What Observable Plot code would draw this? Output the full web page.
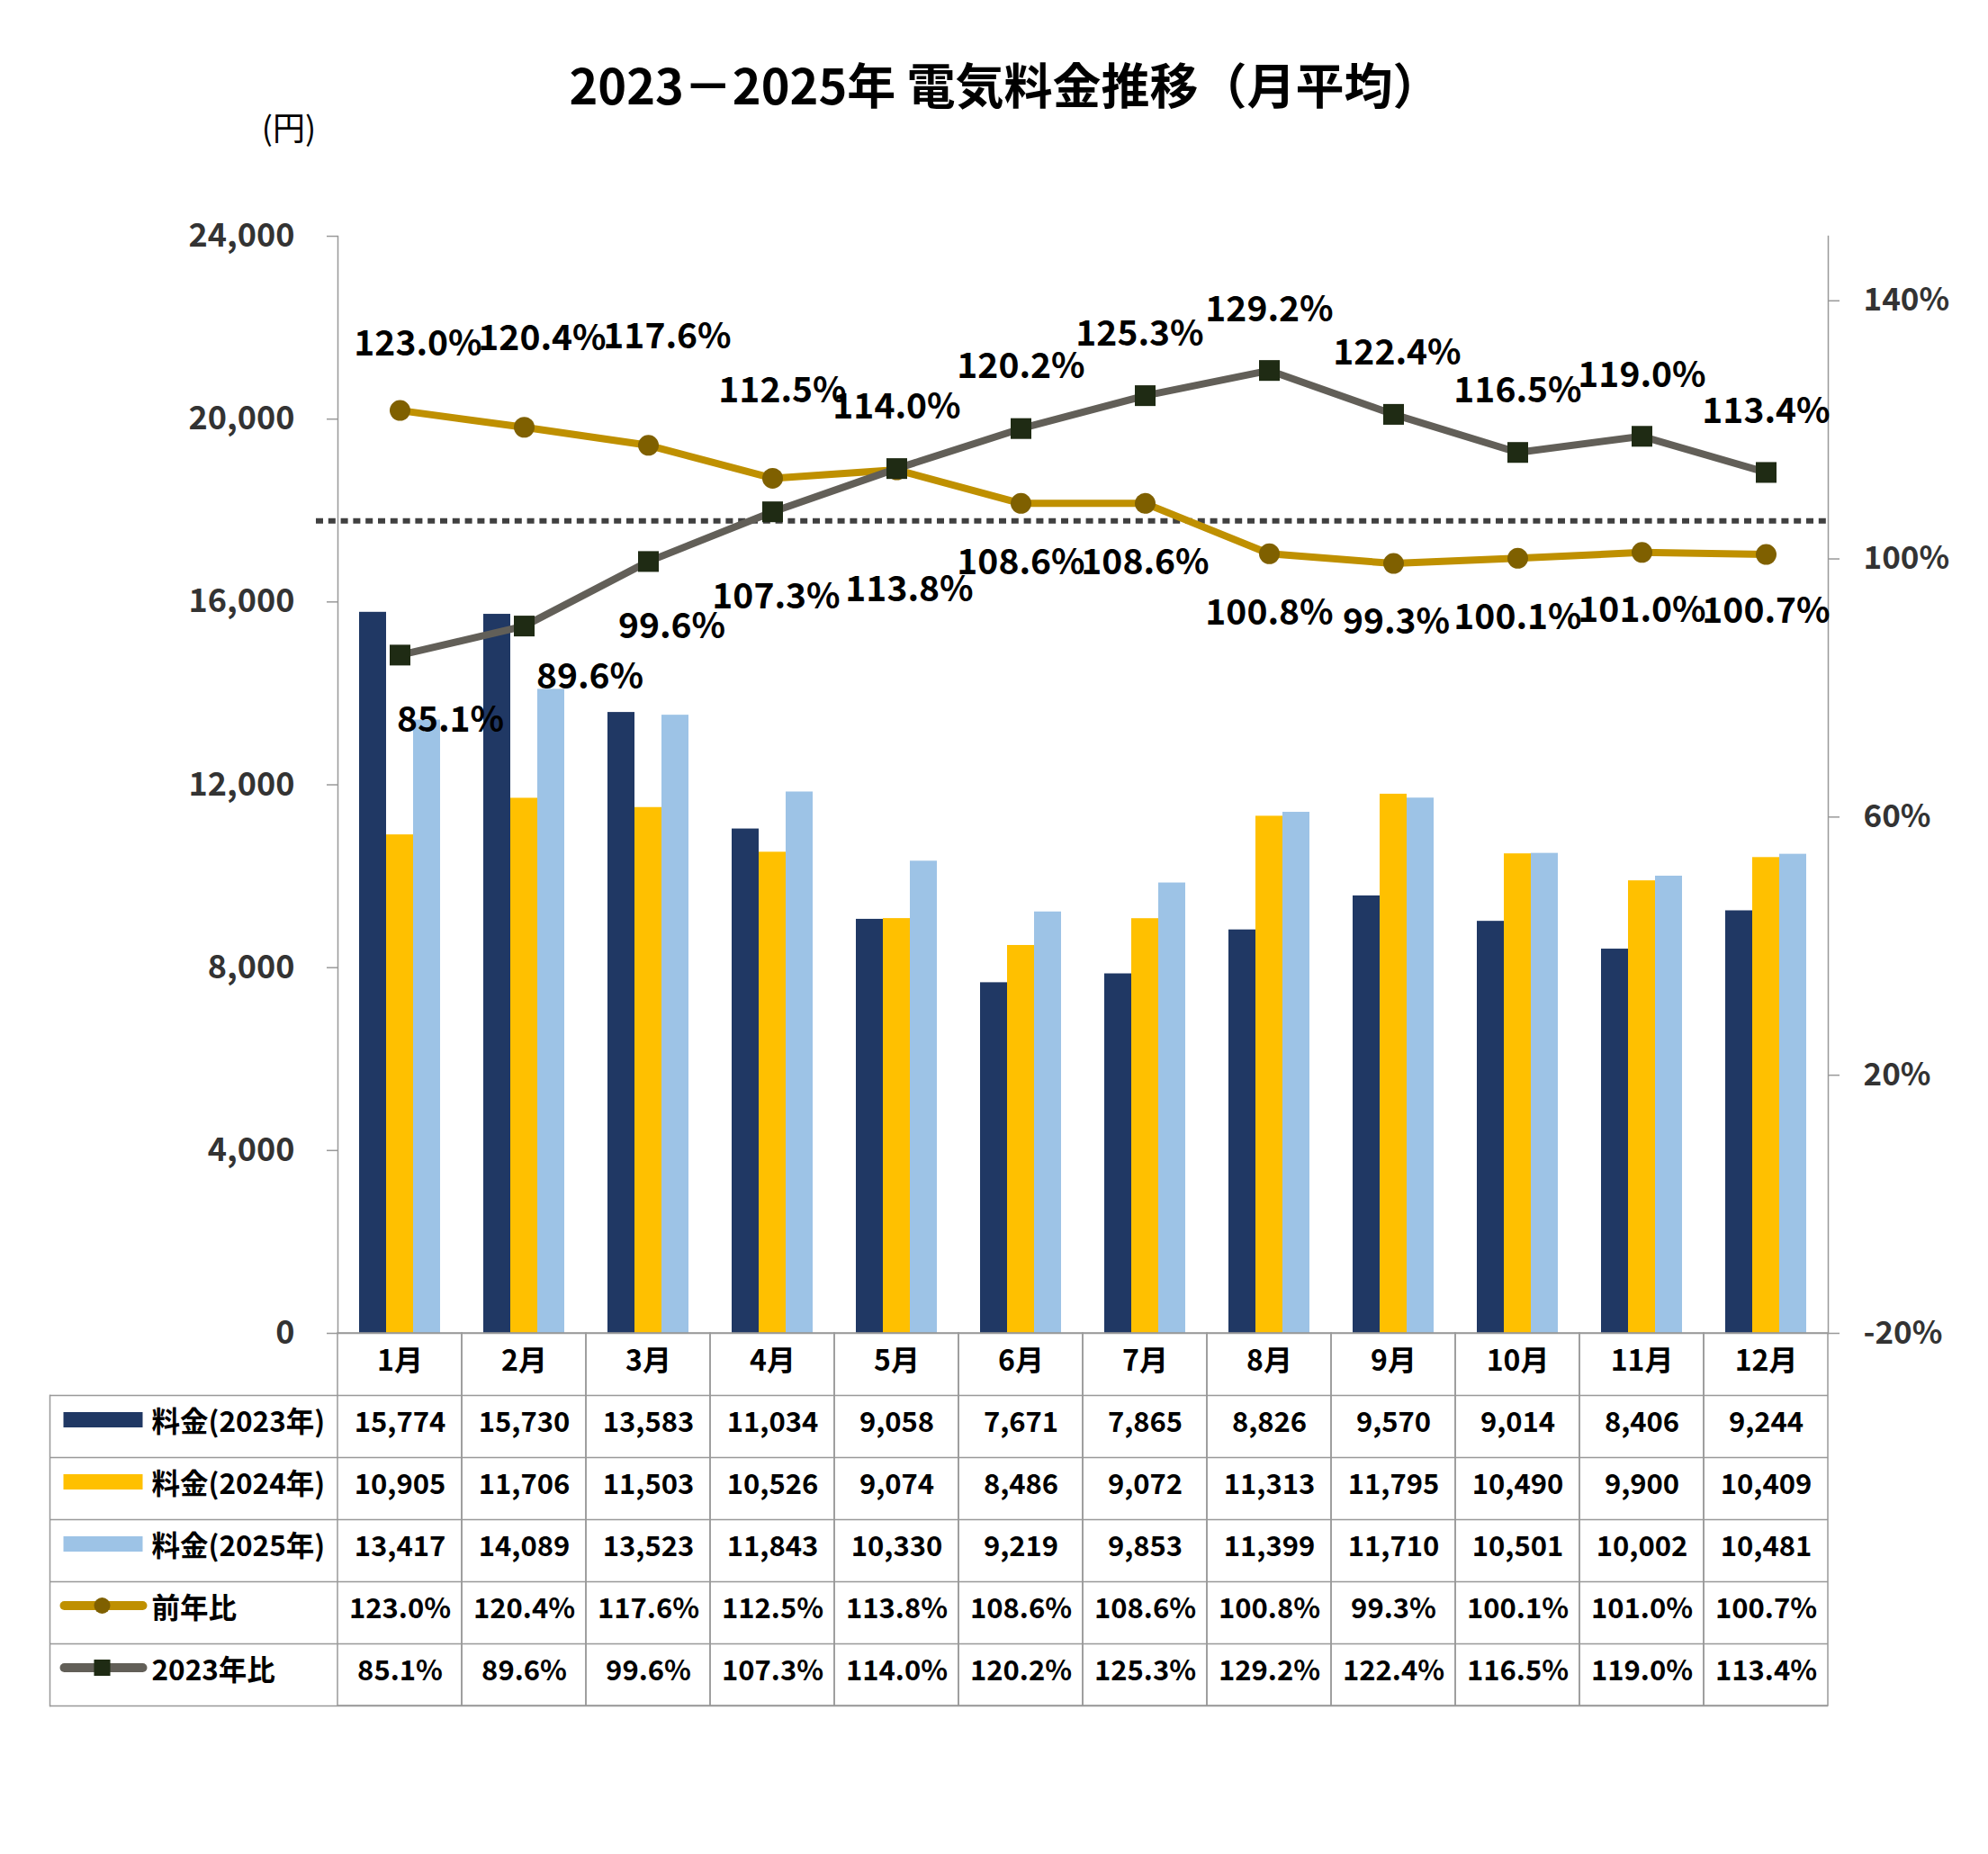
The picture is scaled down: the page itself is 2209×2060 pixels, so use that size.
<!DOCTYPE html>
<html>
<head>
<meta charset="utf-8">
<script src="https://cdn.jsdelivr.net/npm/d3@7"></script>
<script src="https://cdn.jsdelivr.net/npm/@observablehq/plot@0.6"></script>
<style>
  html, body { margin: 0; padding: 0; background: #fff; }
  body { width: 2209px; height: 2060px; position: relative; overflow: hidden; font-family: "Noto Sans CJK JP", sans-serif; }
  #title { position: absolute; left: 25px; width: 2184px; top: 66px; text-align: center; font-size: 54px; line-height: 54px; font-weight: bold; color: #000; }
  #unit { position: absolute; left: 271px; width: 100px; top: 122px; text-align: center; font-size: 36px; line-height: 36px; color: #000; }
  #chart, #overlay, #table { position: absolute; left: 0; }
  #chart, #overlay { top: 200px; }
  #table { top: 1481px; }
  svg { overflow: visible; }
</style>
</head>
<body>
<div id="title">2023－2025年 電気料金推移（月平均）</div>
<div id="unit">(円)</div>
<div id="chart"></div>
<div id="overlay"></div>
<div id="table"></div>
<script>
// ---------------- data ----------------
const months = ["1月","2月","3月","4月","5月","6月","7月","8月","9月","10月","11月","12月"];
const years = ["2023","2024","2025"];
const fee2023 = [15774, 15730, 13583, 11034, 9058, 7671, 7865, 8826, 9570, 9014, 8406, 9244];
const fee2024 = [10905, 11706, 11503, 10526, 9074, 8486, 9072, 11313, 11795, 10490, 9900, 10409];
const fee2025 = [13417, 14089, 13523, 11843, 10330, 9219, 9853, 11399, 11710, 10501, 10002, 10481];
const yoy     = [123.0, 120.4, 117.6, 112.5, 113.8, 108.6, 108.6, 100.8, 99.3, 100.1, 101.0, 100.7];
const vs2023  = [85.1, 89.6, 99.6, 107.3, 114.0, 120.2, 125.3, 129.2, 122.4, 116.5, 119.0, 113.4];
const leftTicks = [0, 4000, 8000, 12000, 16000, 20000, 24000];
const rightTicks = [-20, 20, 60, 100, 140];
const refLine = 105.9;
const rowLabels = ["料金(2023年)", "料金(2024年)", "料金(2025年)", "前年比", "2023年比"];

// ---------------- styles / layout ----------------
const FONT = "'Noto Sans CJK JP', sans-serif";
const barColors = ["#203864", "#FFC000", "#9DC3E6"];
const yoyLine = "#BF9000", yoyDot = "#7F6000";
const vsLine = "#625F58", vsDot = "#1F2B14";
const gridColor = "#999";
// manual data-label nudges (pixels), as placed in the original
const yoyDx = [20, 20, 21, 11, 14, 0, 0, 0, 3, 0, 0, 0];
const yoyDy = [-74, -98, -120, -97, 133, 66, 66, 66, 65, 66, 65, 64];
const vsDx  = [56, 73, 26, 4, 0, 0, -6, 0, 4, 0, 0, 0];
const vsDy  = [73, 57, 73, 95, -68, -69, -68, -67, -68, -68, -67, -67];

const W = 2209, H = 1283, ML = 375, MR = 178, MT = 62, MB = 2;

// ---------------- bars (faceted by month) ----------------
const series = [fee2023, fee2024, fee2025];
const barData = months.flatMap((m, i) => years.map((y, k) => ({month: m, year: y, value: series[k][i]})));

const bars = Plot.plot({
  width: W, height: H, marginLeft: ML, marginRight: MR, marginTop: MT, marginBottom: MB,
  style: {background: "transparent", fontFamily: FONT, overflow: "visible"},
  fx: {domain: months, padding: 0, axis: null, label: null},
  x: {domain: years, paddingInner: 0, paddingOuter: 0.75, axis: null},
  y: {domain: [0, 24000], label: null},
  color: {domain: years, range: barColors},
  marks: [
    Plot.barY(barData, {fx: "month", x: "year", y: "value", fill: "year"}),
    Plot.axisY({ticks: leftTicks, tickFormat: d3.format(","), tickSize: 12, tickPadding: 36,
      fontSize: 36, fontWeight: "bold", fill: "#333", stroke: gridColor, strokeWidth: 1.5, label: null})
  ]
});
document.getElementById("chart").appendChild(bars);

// ---------------- lines overlay ----------------
const lineData = months.map((m, i) => ({month: m, yoy: yoy[i], vs: vs2023[i]}));
const fmtPct = d => d.toFixed(1) + "%";
const labelStyle = {fontSize: 39, fontWeight: "bold", fill: "#000", fontFamily: FONT};

const yoyLabels = lineData.map((d, i) => Plot.text([d], {x: "month", y: "yoy", text: e => fmtPct(e.yoy), dx: yoyDx[i], dy: yoyDy[i], ...labelStyle}));
const vsLabels = lineData.map((d, i) => Plot.text([d], {x: "month", y: "vs", text: e => fmtPct(e.vs), dx: vsDx[i], dy: vsDy[i], ...labelStyle}));

const overlay = Plot.plot({
  width: W, height: H, marginLeft: ML, marginRight: MR, marginTop: MT, marginBottom: MB,
  style: {background: "transparent", fontFamily: FONT, overflow: "visible"},
  x: {type: "point", domain: months, padding: 0.5, axis: null},
  y: {domain: [-20, 150], label: null},
  marks: [
    Plot.frame({anchor: "left", stroke: gridColor, strokeWidth: 1.5}),
    Plot.frame({anchor: "right", stroke: gridColor, strokeWidth: 1.5}),
    Plot.frame({anchor: "bottom", stroke: gridColor, strokeWidth: 1.5}),
    Plot.axisY({anchor: "right", ticks: rightTicks, tickFormat: d => d + "%", tickSize: 12, tickPadding: 27,
      fontSize: 35, fontWeight: "bold", fill: "#333", stroke: gridColor, strokeWidth: 1.5, label: null}),
    Plot.ruleY([refLine], {stroke: "#404040", strokeWidth: 6, strokeDasharray: "8 5.8", insetLeft: -24}),
    Plot.line(lineData, {x: "month", y: "yoy", stroke: yoyLine, strokeWidth: 8}),
    Plot.dot(lineData, {x: "month", y: "yoy", r: 11.5, fill: yoyDot, symbol: "circle"}),
    Plot.line(lineData, {x: "month", y: "vs", stroke: vsLine, strokeWidth: 8}),
    Plot.dot(lineData, {x: "month", y: "vs", r: 13, fill: vsDot, symbol: "square"}),
    ...yoyLabels,
    ...vsLabels
  ]
});
document.getElementById("overlay").appendChild(overlay);

// ---------------- data table ----------------
const rowKinds = ["bar", "bar", "bar", "line", "line"];
const rowColors = [barColors[0], barColors[1], barColors[2], yoyLine, vsLine];
const rowMarkColors = [null, null, null, yoyDot, vsDot];
const rowMarkSymbols = [null, null, null, "circle", "square"];
const rowValues = [fee2023, fee2024, fee2025, yoy, vs2023];
const rowFormats = [d3.format(","), d3.format(","), d3.format(","), fmtPct, fmtPct];
const nRows = rowLabels.length + 1;
const rowH = 69;

const rows = rowLabels.map((label, r) => ({row: r + 1, label, kind: rowKinds[r], color: rowColors[r], mark: rowMarkColors[r], symbol: rowMarkSymbols[r]}));
const header = months.map(m => ({month: m, row: 0, text: m}));
const cells = rows.flatMap((r, ri) => months.map((m, i) => ({month: m, row: r.row, text: rowFormats[ri](rowValues[ri][i])})));

const rectSymbol = (w, h) => ({draw(ctx) { ctx.rect(-w / 2, -h / 2, w, h); }});
const pillSymbol = (w, h) => ({draw(ctx) {
  const r = h / 2, a = w / 2 - r;
  ctx.moveTo(-a, -r); ctx.lineTo(a, -r);
  ctx.arc(a, 0, r, -Math.PI / 2, Math.PI / 2);
  ctx.lineTo(-a, r);
  ctx.arc(-a, 0, r, Math.PI / 2, Math.PI * 3 / 2);
  ctx.closePath();
}});

const txt = {fontFamily: FONT, fontWeight: "bold", fill: "#000"};
const table = Plot.plot({
  width: W, height: nRows * rowH + 2, marginLeft: 55, marginRight: MR, marginTop: 0, marginBottom: 2,
  style: {background: "transparent", fontFamily: FONT, overflow: "visible"},
  x: {type: "band", domain: months, range: [ML, W - MR], padding: 0, axis: null},
  y: {domain: [0, nRows], range: [0, nRows * rowH], axis: null},
  marks: [
    Plot.barY(months, {x: d => d, y1: 0, y2: nRows, fill: "none", stroke: gridColor, strokeWidth: 1.5}),
    Plot.ruleY(rows, {y: d => d.row, stroke: gridColor, strokeWidth: 1.5}),
    Plot.ruleY([nRows], {stroke: gridColor, strokeWidth: 1.5}),
    Plot.frame({anchor: "left", insetTop: rowH, stroke: gridColor, strokeWidth: 1.5}),
    Plot.text(header, {x: "month", y: d => d.row + 0.5, text: "text", fontSize: 32, dy: -3, ...txt}),
    Plot.text(cells, {x: "month", y: d => d.row + 0.5, text: "text", fontSize: 31, dy: -4, ...txt}),
    Plot.text(rows, {y: d => d.row + 0.5, text: "label", frameAnchor: "left", dx: 113, dy: -4, textAnchor: "start", fontSize: 31.5, ...txt}),
    Plot.dot(rows.filter(d => d.kind === "bar"), {y: d => d.row + 0.5, frameAnchor: "left", dx: 59, dy: -7.5, symbol: rectSymbol(88, 17), fill: d => d.color}),
    Plot.dot(rows.filter(d => d.kind === "line"), {y: d => d.row + 0.5, frameAnchor: "left", dx: 59.5, dy: -8, symbol: pillSymbol(97, 10), fill: d => d.color}),
    Plot.dot(rows.filter(d => d.symbol === "circle"), {y: d => d.row + 0.5, frameAnchor: "left", dx: 58, dy: -8, symbol: "circle", r: 9, fill: d => d.mark}),
    Plot.dot(rows.filter(d => d.symbol === "square"), {y: d => d.row + 0.5, frameAnchor: "left", dx: 58, dy: -8, symbol: "square", r: 10.2, fill: d => d.mark})
  ]
});
document.getElementById("table").appendChild(table);
</script>
</body>
</html>
